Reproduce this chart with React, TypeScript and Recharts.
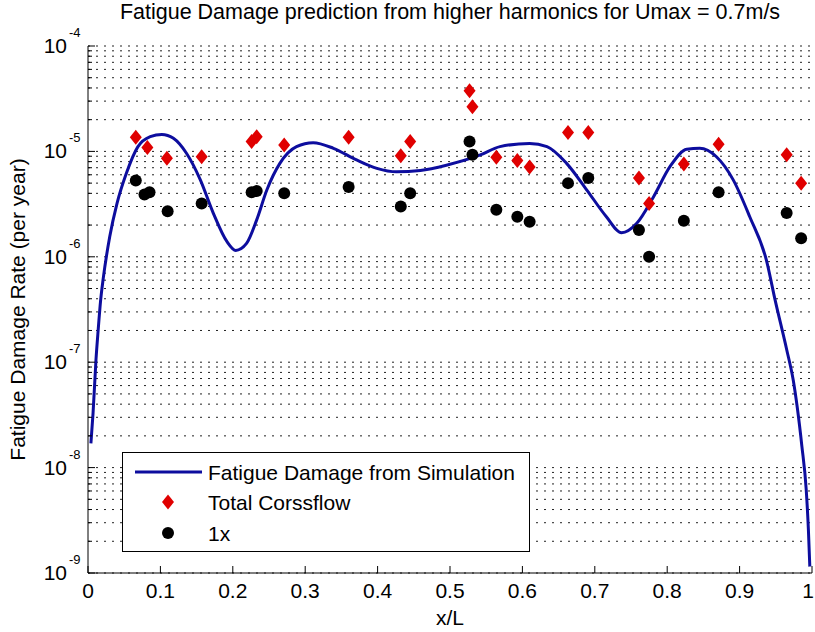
import React from 'react'
import { ComposedChart, Line, Scatter, XAxis, YAxis, CartesianGrid, Legend } from 'recharts'

const FONT = '"Liberation Sans", Arial, Helvetica, sans-serif'

// simulated fatigue damage curve along the riser
const simX = [0.004, 0.007, 0.011, 0.014, 0.0175, 0.021, 0.03, 0.04, 0.053, 0.069, 0.086, 0.102, 0.118, 0.136, 0.155, 0.173, 0.192, 0.204, 0.219, 0.233, 0.247, 0.265, 0.288, 0.311, 0.339, 0.371, 0.399, 0.426, 0.459, 0.495, 0.541, 0.569, 0.61, 0.634, 0.661, 0.689, 0.716, 0.737, 0.758, 0.781, 0.804, 0.827, 0.845, 0.868, 0.891, 0.914, 0.937, 0.949, 0.965, 0.974, 0.986, 0.992, 0.995, 0.997]
const simY = [1.7e-8, 3.3e-8, 1.05e-7, 2.0e-7, 3.9e-7, 6.2e-7, 1.55e-6, 3.2e-6, 6.2e-6, 1.11e-5, 1.38e-5, 1.45e-5, 1.33e-5, 9.6e-6, 5.4e-6, 2.6e-6, 1.39e-6, 1.15e-6, 1.34e-6, 2.24e-6, 4.3e-6, 7.7e-6, 1.11e-5, 1.21e-5, 1.07e-5, 8.3e-6, 6.9e-6, 6.4e-6, 6.6e-6, 7.4e-6, 9.2e-6, 1.11e-5, 1.19e-5, 1.11e-5, 7.7e-6, 4.3e-6, 2.4e-6, 1.69e-6, 2.08e-6, 3.7e-6, 7.2e-6, 1.05e-5, 1.07e-5, 8.9e-6, 5.4e-6, 2.4e-6, 9.3e-7, 3.9e-7, 1.32e-7, 6.8e-8, 1.6e-8, 6.2e-9, 2.6e-9, 1.15e-9]

// measured: total crossflow
const totalX = [0.066, 0.082, 0.109, 0.157, 0.226, 0.233, 0.271, 0.36, 0.432, 0.445, 0.527, 0.531, 0.564, 0.593, 0.61, 0.663, 0.691, 0.761, 0.775, 0.823, 0.871, 0.965, 0.985]
const totalY = [1.36e-5, 1.09e-5, 8.6e-6, 8.9e-6, 1.24e-5, 1.38e-5, 1.15e-5, 1.36e-5, 9.1e-6, 1.24e-5, 3.77e-5, 2.65e-5, 8.8e-6, 8.2e-6, 7.1e-6, 1.51e-5, 1.51e-5, 5.6e-6, 3.2e-6, 7.6e-6, 1.17e-5, 9.3e-6, 5.0e-6]

// measured: 1x component
const oneX = [0.066, 0.078, 0.085, 0.11, 0.157, 0.226, 0.233, 0.271, 0.36, 0.432, 0.445, 0.527, 0.531, 0.564, 0.593, 0.61, 0.663, 0.691, 0.761, 0.775, 0.823, 0.871, 0.965, 0.985]
const oneY = [5.3e-6, 3.9e-6, 4.1e-6, 2.7e-6, 3.2e-6, 4.1e-6, 4.2e-6, 4.0e-6, 4.6e-6, 3.0e-6, 4.0e-6, 1.24e-5, 9.3e-6, 2.8e-6, 2.4e-6, 2.15e-6, 5.0e-6, 5.6e-6, 1.8e-6, 1.0e-6, 2.2e-6, 4.1e-6, 2.6e-6, 1.5e-6]

const xTicks = [0, 0.1, 0.2, 0.3, 0.4, 0.5, 0.6, 0.7, 0.8, 0.9, 1]
const yDecades = [1e-9, 1e-8, 1e-7, 1e-6, 1e-5, 1e-4]
const yMinorSteps = [2, 3, 4, 5, 6, 7, 8, 9]

const yTicks: number[] = []
yDecades.forEach((d, i) => {
  yTicks.push(d)
  if (i < yDecades.length - 1) yMinorSteps.forEach((m) => yTicks.push(m * d))
})

const simData = simX.map((x, i) => ({ x, y: simY[i] }))
const totalData = totalX.map((x, i) => ({ x, y: totalY[i] }))
const oneData = oneX.map((x, i) => ({ x, y: oneY[i] }))

const isMajor = (v: number) => Math.abs(Math.log10(v) - Math.round(Math.log10(v))) < 1e-6

const LeftTick = (props: any) => {
  const { x, y, payload } = props
  const v = payload.value
  const major = isMajor(v)
  const e = Math.round(Math.log10(v))
  return (
    <g>
      <line x1={x} y1={y} x2={x + (major ? 7 : 4)} y2={y} stroke="#000" />
      {major && (
        <>
          <text x={x - 21} y={y + 7} textAnchor="end" fontSize={21} fontFamily={FONT} fill="#000">10</text>
          <text x={x - 19} y={y - 9} textAnchor="start" fontSize={13} fontFamily={FONT} fill="#000">{'-' + Math.abs(e)}</text>
        </>
      )}
    </g>
  )
}

const RightTick = (props: any) => {
  const { x, y, payload } = props
  const major = isMajor(payload.value)
  return <line x1={x} y1={y} x2={x - (major ? 7 : 4)} y2={y} stroke="#000" />
}

const BottomTick = (props: any) => {
  const { x, y, payload } = props
  const v = payload.value
  const label = v === 0 || v === 1 ? String(v) : v.toFixed(1)
  return (
    <g>
      <line x1={x} y1={y} x2={x} y2={y - 7} stroke="#000" />
      <text x={Math.min(x, 808)} y={y + 25} textAnchor="middle" fontSize={21} fontFamily={FONT} fill="#000">{label}</text>
    </g>
  )
}

const TopTick = (props: any) => {
  const { x, y } = props
  return <line x1={x} y1={y} x2={x} y2={y + 7} stroke="#000" />
}

const Diamond = (props: any) => {
  const { cx, cy } = props
  return <polygon points={`${cx},${cy - 7.5} ${cx + 6},${cy} ${cx},${cy + 7.5} ${cx - 6},${cy}`} fill="#e00000" />
}

const Dot = (props: any) => <circle cx={props.cx} cy={props.cy} r={6} fill="#000" />

const LegendBox = () => (
  <svg width={408} height={100} style={{ display: 'block' }}>
    <rect x={0.5} y={0.5} width={407} height={99} fill="#fff" stroke="#000" />
    <line x1={13} y1={20} x2={80} y2={20} stroke="#0d0d9e" strokeWidth={3} />
    <text x={86} y={27.5} fontSize={21} fontFamily={FONT} fill="#000">Fatigue Damage from Simulation</text>
    <polygon points="46,42.5 52,50 46,57.5 40,50" fill="#e00000" />
    <text x={86} y={57.5} fontSize={21} fontFamily={FONT} fill="#000">Total Corssflow</text>
    <circle cx={46} cy={81} r={6} fill="#000" />
    <text x={86} y={88.5} fontSize={21} fontFamily={FONT} fill="#000">1x</text>
  </svg>
)

// x-axis label plus the chart title, both centred over the plot area
const XLabelAndTitle = (p: any) => {
  const vb = p.viewBox
  const cx = vb.x + vb.width / 2
  return (
    <g>
      <text x={cx} y={vb.y + 52} textAnchor="middle" fontSize={21} fontFamily={FONT} fill="#000">x/L</text>
      <text x={cx} y={19} textAnchor="middle" fontSize={21.5} fontFamily={FONT} fill="#000">
        Fatigue Damage prediction from higher harmonics for Umax = 0.7m/s
      </text>
    </g>
  )
}

export default function App() {
  return (
    <div style={{ position: 'absolute', left: 0, top: 0, background: '#fff' }}>
      <ComposedChart width={815} height={632} margin={{ top: 46, right: 3, bottom: 0, left: 0 }}>
        <CartesianGrid vertical={false} stroke="#222" strokeDasharray="2 6" />
        <XAxis
          dataKey="x"
          type="number"
          domain={[0, 1]}
          allowDataOverflow
          ticks={xTicks}
          interval={0}
          height={59}
          tickSize={0}
          tickMargin={0}
          tickLine={false}
          tick={<BottomTick />}
          axisLine={{ stroke: '#000' }}
          label={{ content: XLabelAndTitle }}
        />
        <XAxis
          xAxisId="top"
          orientation="top"
          dataKey="x"
          type="number"
          domain={[0, 1]}
          allowDataOverflow
          ticks={xTicks}
          interval={0}
          height={0}
          tickSize={0}
          tickMargin={0}
          tickLine={false}
          tick={<TopTick />}
          axisLine={{ stroke: '#000' }}
        />
        <YAxis
          scale="log"
          type="number"
          domain={[1e-9, 1e-4]}
          allowDataOverflow
          ticks={yTicks}
          interval={0}
          width={88}
          tickSize={0}
          tickMargin={0}
          tickLine={false}
          tick={<LeftTick />}
          axisLine={{ stroke: '#000' }}
          label={{
            content: (p: any) => {
              const vb = p.viewBox
              const cy = vb.y + vb.height / 2
              return (
                <text x={25} y={cy} transform={`rotate(-90 25 ${cy})`} textAnchor="middle" fontSize={21} fontFamily={FONT} fill="#000">
                  Fatigue Damage Rate (per year)
                </text>
              )
            },
          }}
        />
        <YAxis
          yAxisId="right"
          orientation="right"
          scale="log"
          type="number"
          domain={[1e-9, 1e-4]}
          allowDataOverflow
          ticks={yTicks}
          interval={0}
          width={0}
          tickSize={0}
          tickMargin={0}
          tickLine={false}
          tick={<RightTick />}
          axisLine={{ stroke: '#000' }}
        />
        <Legend
          layout="horizontal"
          verticalAlign="middle"
          align="center"
          wrapperStyle={{ left: 122, top: 452, width: 408, height: 100 }}
          content={<LegendBox />}
        />
        <Line
          data={simData}
          dataKey="y"
          type="monotone"
          stroke="#0d0d9e"
          strokeWidth={3}
          dot={false}
          activeDot={false}
          isAnimationActive={false}
          name="Fatigue Damage from Simulation"
        />
        <Scatter data={totalData} dataKey="y" shape={<Diamond />} isAnimationActive={false} name="Total Corssflow" />
        <Scatter data={oneData} dataKey="y" shape={<Dot />} isAnimationActive={false} name="1x" />
      </ComposedChart>
    </div>
  )
}
